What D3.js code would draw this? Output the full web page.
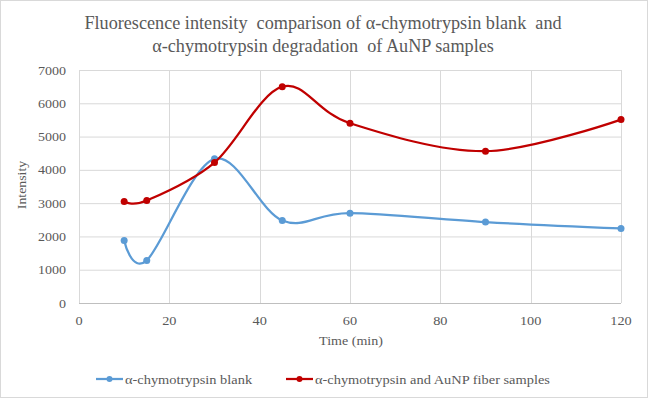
<!DOCTYPE html>
<html>
<head>
<meta charset="utf-8">
<script src="https://cdn.jsdelivr.net/npm/d3@7"></script>
<style>
  body { margin: 0; background: #fff; }
  svg text { font-family: "Liberation Serif", "Times New Roman", serif; fill: #595959; }
</style>
</head>
<body>
<svg id="chart"></svg>
<script>
const width = 648;
const height = 398;

// data
const times = [10, 15, 30, 45, 60, 90, 120];
const blankValues = [1880, 1280, 4330, 2480, 2700, 2430, 2240];
const aunpValues = [3050, 3080, 4220, 6500, 5400, 4560, 5510];
const seriesNames = ["α-chymotrypsin blank", "α-chymotrypsin and AuNP fiber samples"];
const seriesColors = ["#5b9bd5", "#c00000"];
const xTicks = [0, 20, 40, 60, 80, 100, 120];
const yTicks = [0, 1000, 2000, 3000, 4000, 5000, 6000, 7000];

const svg = d3.select("#chart")
    .attr("width", width)
    .attr("height", height);

// border around the chart
svg.append("rect")
    .attr("x", 0.5).attr("y", 0.5)
    .attr("width", width - 1).attr("height", height - 1)
    .attr("fill", "#fff")
    .attr("stroke", "#d9d9d9");

const x = d3.scaleLinear().domain([0, 120]).range([79, 621]);
const y = d3.scaleLinear().domain([0, 7000]).range([303, 70]);

// the small labels in the picture are a bit wider than normal Times
function label(parent, tx, ty, sx, size, anchor, txt, rot) {
    return parent.append("text")
        .attr("transform", `translate(${tx},${ty})` + (rot ? ` rotate(${rot})` : "") + ` scale(${sx},1)`)
        .attr("text-anchor", anchor)
        .style("font-size", size + "px")
        .text(txt);
}

// title (keeps the double spaces of the original)
const title = svg.append("text")
    .attr("text-anchor", "middle")
    .style("white-space", "pre")
    .style("font-size", "18.2px");
title.append("tspan").attr("x", 323).attr("y", 29)
    .text("Fluorescence intensity  comparison of α-chymotrypsin blank  and");
title.append("tspan").attr("x", 323).attr("y", 52)
    .text("α-chymotrypsin degradation  of AuNP samples");

// gridlines
svg.append("g").selectAll("line")
    .data(yTicks.slice(1))
    .join("line")
    .attr("x1", x(0)).attr("x2", x(120))
    .attr("y1", d => y(d) + 0.5).attr("y2", d => y(d) + 0.5)
    .attr("stroke", "#d9d9d9");

svg.append("g").selectAll("line")
    .data(xTicks)
    .join("line")
    .attr("x1", d => Math.round(x(d)) + 0.5).attr("x2", d => Math.round(x(d)) + 0.5)
    .attr("y1", y(7000)).attr("y2", y(0))
    .attr("stroke", "#d9d9d9");

// x axis line
svg.append("line")
    .attr("x1", x(0)).attr("x2", x(120))
    .attr("y1", y(0) + 0.5).attr("y2", y(0) + 0.5)
    .attr("stroke", "#bfbfbf");

// tick labels
const yLab = svg.append("g");
yTicks.forEach(d => label(yLab, 66, y(d) + 4.5, 1.08, 13, "end", d));

const xLab = svg.append("g");
xTicks.forEach(d => label(xLab, x(d), 325, 1.1, 13, "middle", d));

// axis titles
label(svg, 351, 345, 1.17, 12, "middle", "Time (min)");
label(svg, 26, 185, 1.15, 12, "middle", "Intensity", -90);

// lines, Excel style smoothing
const line = d3.line()
    .x(d => x(d[0]))
    .y(d => y(d[1]))
    .curve(d3.curveCatmullRom.alpha(0));

const series = [blankValues, aunpValues].map(vals => times.map((t, i) => [t, vals[i]]));

series.forEach((pts, i) => {
    svg.append("path")
        .datum(pts)
        .attr("d", line)
        .attr("fill", "none")
        .attr("stroke", seriesColors[i])
        .attr("stroke-width", 2.25)
        .attr("stroke-linecap", "round");

    svg.append("g").selectAll("circle")
        .data(pts)
        .join("circle")
        .attr("cx", d => x(d[0]))
        .attr("cy", d => y(d[1]))
        .attr("r", 3.5)
        .attr("fill", seriesColors[i]);
});

// legend
const legendX = [96, 286];
seriesNames.forEach((name, i) => {
    const g = svg.append("g").attr("transform", `translate(${legendX[i]},379)`);
    g.append("line")
        .attr("x1", 0).attr("x2", 27)
        .attr("stroke", seriesColors[i])
        .attr("stroke-width", 2.25);
    g.append("circle").attr("cx", 13.5).attr("r", 3).attr("fill", seriesColors[i]);
    label(g, 29, 4.5, 1.2, 12, "start", name);
});
</script>
</body>
</html>
